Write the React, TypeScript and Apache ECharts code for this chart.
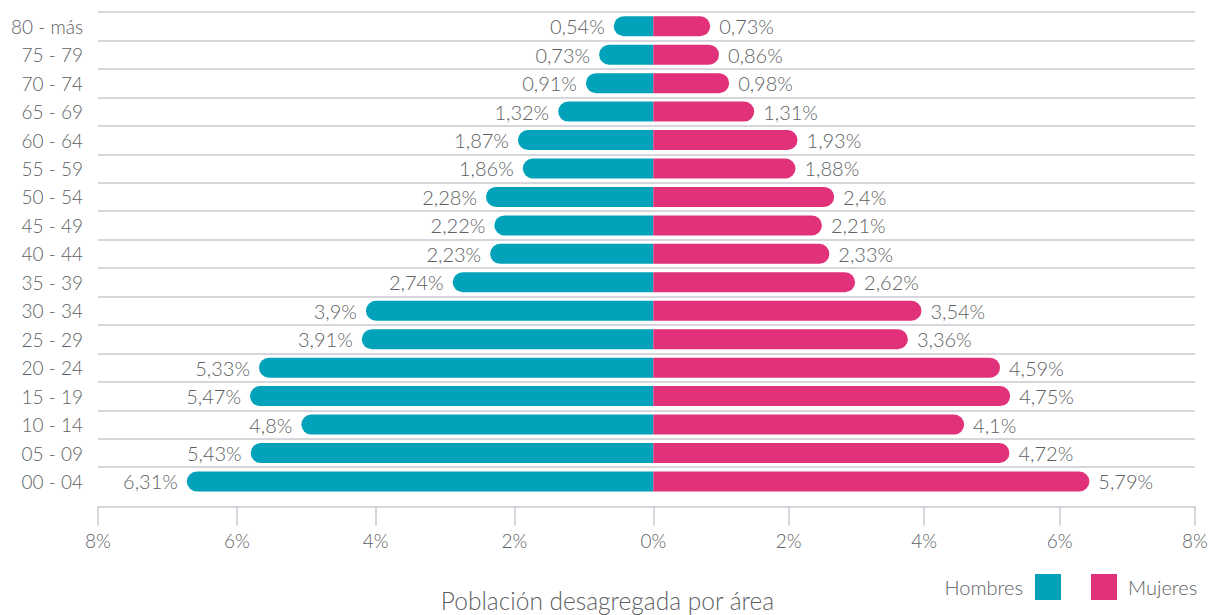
import React, { useEffect, useRef } from 'react';
import * as echarts from 'echarts';

// Categories listed bottom (00 - 04) to top (80 - más)
const categories = ['00 - 04', '05 - 09', '10 - 14', '15 - 19', '20 - 24', '25 - 29', '30 - 34', '35 - 39', '40 - 44', '45 - 49', '50 - 54', '55 - 59', '60 - 64', '65 - 69', '70 - 74', '75 - 79', '80 - más'];
// Bar lengths as drawn on the axis (in %)
const hombresValues = [6.72, 5.8, 5.07, 5.81, 5.68, 4.2, 4.14, 2.89, 2.35, 2.29, 2.41, 1.88, 1.95, 1.37, 0.97, 0.78, 0.57];
const mujeresValues = [6.44, 5.26, 4.59, 5.27, 5.12, 3.76, 3.96, 2.98, 2.6, 2.49, 2.67, 2.1, 2.13, 1.49, 1.12, 0.97, 0.84];
// Label texts shown next to the bars
const hombresLabels = ['6,31%', '5,43%', '4,8%', '5,47%', '5,33%', '3,91%', '3,9%', '2,74%', '2,23%', '2,22%', '2,28%', '1,86%', '1,87%', '1,32%', '0,91%', '0,73%', '0,54%'];
const mujeresLabels = ['5,79%', '4,72%', '4,1%', '4,75%', '4,59%', '3,36%', '3,54%', '2,62%', '2,33%', '2,21%', '2,4%', '1,88%', '1,93%', '1,31%', '0,98%', '0,86%', '0,73%'];
const axisMin = 0;
const axisMax = 8;
const axisStep = 2;
const seriesNames = ['Hombres', 'Mujeres'];
const chartTitle = 'Población desagregada por área';

const TEAL = '#02a3ba';
const PINK = '#e0317a';
const TEXT = '#5e5f63';
const LINE = '#c9c9d1';
const FONT = 'Lato, "Noto Sans", sans-serif';
const WEIGHT = 300;

export default function App() {
  const ref = useRef<HTMLDivElement>(null);
  useEffect(() => {
    document.body.style.margin = '0';
    if (!ref.current) return;
    const chart = echarts.init(ref.current, undefined, { renderer: 'svg' });
    const xAxisBase = (gridIndex: number, inverse: boolean) => ({
      type: 'value' as const,
      gridIndex,
      inverse,
      min: axisMin,
      max: axisMax,
      interval: axisStep,
      offset: 11,
      axisLine: { show: true, lineStyle: { color: LINE, width: 1.5 } },
      axisTick: { show: true, length: 19, lineStyle: { color: LINE, width: 1.5 } },
      splitLine: { show: false },
      axisLabel: {
        color: TEXT,
        fontSize: 19,
        fontFamily: FONT,
        fontWeight: WEIGHT,
        margin: 24,
        showMinLabel: gridIndex === 0,
        formatter: (v: number) => `${v}%`,
      },
    });
    const yAxisBase = (gridIndex: number, showLabel: boolean) => ({
      type: 'category' as const,
      gridIndex,
      data: categories,
      axisLine: { show: false },
      axisTick: { show: false },
      axisLabel: { show: showLabel, color: TEXT, fontSize: 19, fontFamily: FONT, fontWeight: WEIGHT, margin: 15 },
      splitLine: { show: true, showMinLine: false, lineStyle: { color: LINE, width: 1.5 } },
    });
    chart.setOption({
      animation: false,
      title: {
        text: chartTitle,
        left: 'center',
        top: 588,
        padding: 0,
        textStyle: { color: TEXT, fontSize: 24.5, fontWeight: WEIGHT, fontFamily: FONT },
      },
      legend: [
        {
          data: [seriesNames[0]],
          right: 154,
          top: 574,
          align: 'right',
          icon: 'rect',
          itemWidth: 26,
          itemHeight: 26,
          padding: 0,
          textStyle: { color: TEXT, fontSize: 20, fontWeight: WEIGHT, fontFamily: FONT, padding: [0, 7, 0, 0] },
        },
        {
          data: [seriesNames[1]],
          left: 1091,
          top: 574,
          align: 'left',
          icon: 'rect',
          itemWidth: 26,
          itemHeight: 26,
          padding: 0,
          textStyle: { color: TEXT, fontSize: 20, fontWeight: WEIGHT, fontFamily: FONT, padding: [0, 0, 0, 6] },
        },
      ],
      grid: [
        { left: 98, top: 12, width: 555.3, height: 483.7, containLabel: false },
        { left: 653.3, top: 12, width: 541.7, height: 483.7, containLabel: false },
      ],
      xAxis: [xAxisBase(0, true), xAxisBase(1, false)],
      yAxis: [yAxisBase(0, true), yAxisBase(1, false)],
      series: [
        {
          name: seriesNames[0],
          type: 'bar',
          xAxisIndex: 0,
          yAxisIndex: 0,
          data: hombresValues,
          barWidth: 20,
          itemStyle: { color: TEAL, borderRadius: [10, 0, 0, 10] },
          label: {
            show: true,
            position: 'left',
            distance: 9,
            color: TEXT,
            fontSize: 20,
            fontWeight: WEIGHT,
            fontFamily: FONT,
            formatter: (p: any) => hombresLabels[p.dataIndex],
          },
        },
        {
          name: seriesNames[1],
          type: 'bar',
          xAxisIndex: 1,
          yAxisIndex: 1,
          data: mujeresValues,
          barWidth: 20,
          itemStyle: { color: PINK, borderRadius: [0, 10, 10, 0] },
          label: {
            show: true,
            position: 'right',
            distance: 9,
            color: TEXT,
            fontSize: 20,
            fontWeight: WEIGHT,
            fontFamily: FONT,
            formatter: (p: any) => mujeresLabels[p.dataIndex],
          },
        },
      ],
    });
    return () => chart.dispose();
  }, []);
  return <div ref={ref} style={{ width: 1215, height: 615 }} />;
}
